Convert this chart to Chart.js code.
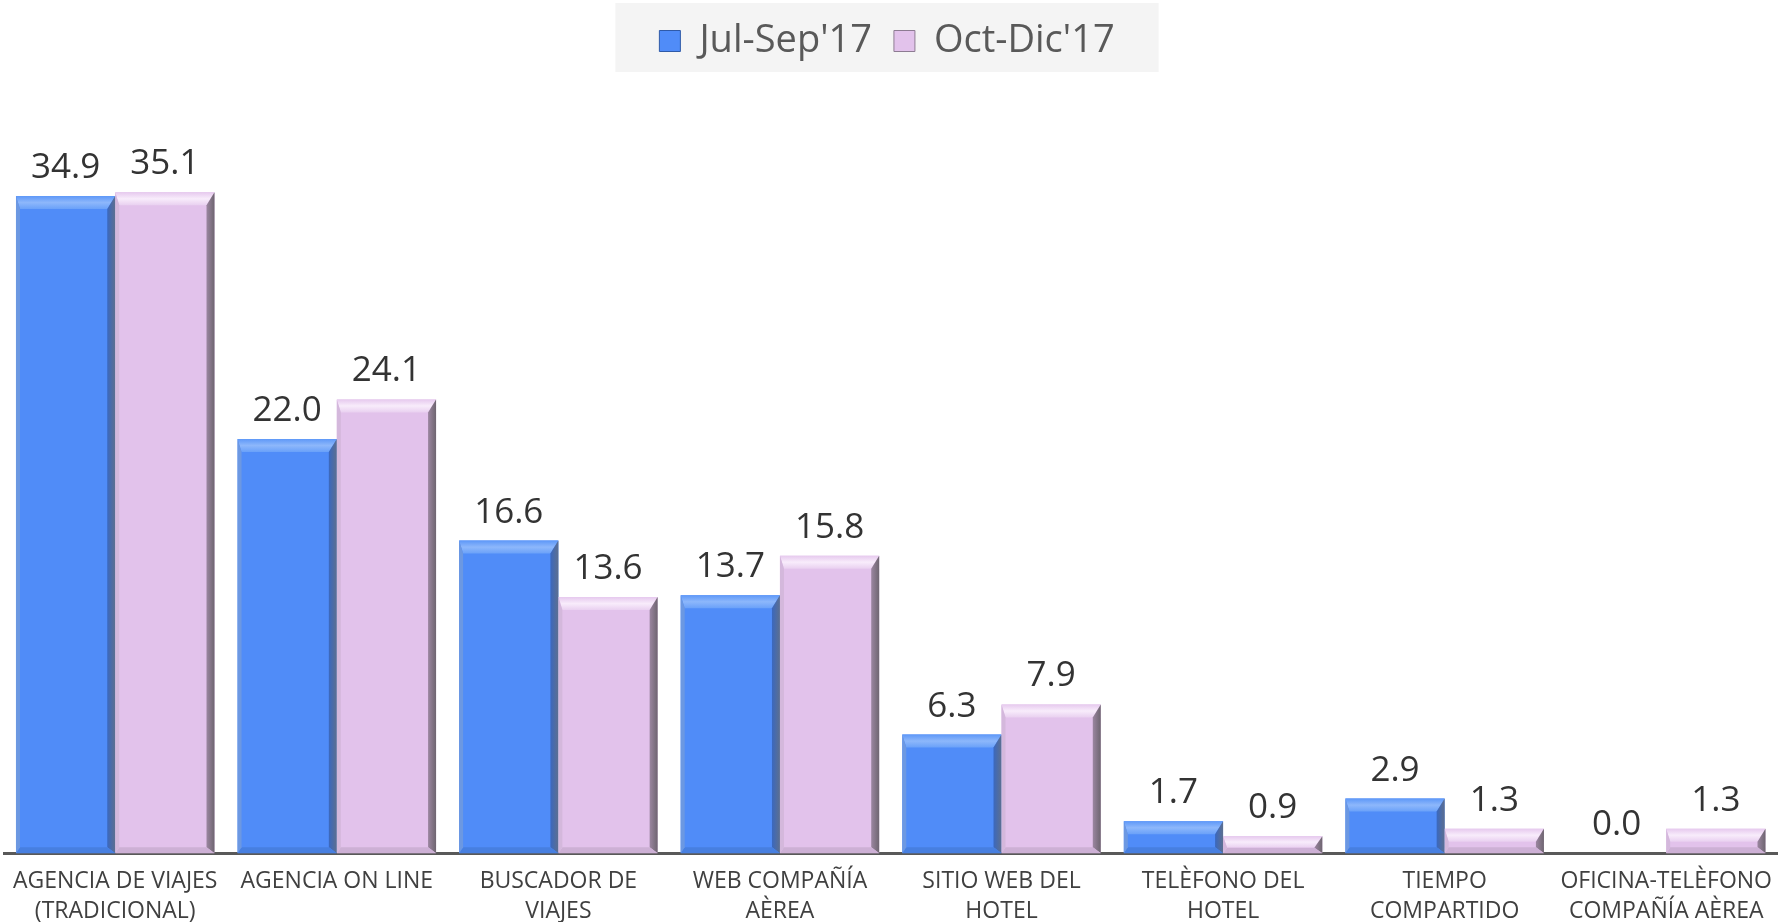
<!DOCTYPE html>
<html>
<head>
<meta charset="utf-8">
<script src="https://cdn.jsdelivr.net/npm/chart.js@4.4.0/dist/chart.umd.min.js"></script>
<style>
    html, body { margin: 0; padding: 0; background: #fff; }
    #wrap { width: 1791px; height: 922px; position: relative; }
</style>
</head>
<body>
<div id="wrap"><canvas id="chart"></canvas></div>
<script>
// Data
const categories = [
    ['AGENCIA DE VIAJES', '(TRADICIONAL)'],
    'AGENCIA ON LINE',
    ['BUSCADOR DE', 'VIAJES'],
    ['WEB COMPAÑÍA', 'AÈREA'],
    ['SITIO WEB DEL', 'HOTEL'],
    ['TELÈFONO DEL', 'HOTEL'],
    ['TIEMPO', 'COMPARTIDO'],
    ['OFICINA-TELÈFONO', 'COMPAÑÍA AÈREA']
];
const seriesNames = ["Jul-Sep'17", "Oct-Dic'17"];
const julSep = [34.9, 22.0, 16.6, 13.7, 6.3, 1.7, 2.9, 0.0];
const octDic = [35.1, 24.1, 13.6, 15.8, 7.9, 0.9, 1.3, 1.3];
const yMax = 40;

// Colours for the bevelled bars
const shades = [
    { face: '#508cf8', topA: '#5e98f8', topB: '#8db7fb', topC: '#6aa1f9', right: '#3a68bf', rightEdge: '#5d6f8f', bottom: '#477fe0', left: '#6c98e2', legendEdge: '#2f5aa8' },
    { face: '#e2c2eb', topA: '#e6c9ee', topB: '#f8ecfb', topC: '#e9d0f0', right: '#9b86a0', rightEdge: '#6e6570', bottom: '#cdb0d5', left: '#d4b8dc', legendEdge: '#8d7b92' }
];

function poly(ctx, pts, fill) {
    ctx.beginPath();
    ctx.moveTo(pts[0][0], pts[0][1]);
    for (let i = 1; i < pts.length; i++) ctx.lineTo(pts[i][0], pts[i][1]);
    ctx.closePath();
    ctx.fillStyle = fill;
    ctx.fill();
}

// Bevel look drawn on top of each bar element
const bevelPlugin = {
    id: 'bevel',
    afterDatasetsDraw(chart) {
        const ctx = chart.ctx;
        ctx.save();
        chart.data.datasets.forEach((ds, di) => {
            const sh = shades[di];
            chart.getDatasetMeta(di).data.forEach(bar => {
                const p = bar.getProps(['x', 'y', 'base', 'width'], true);
                const l = p.x - p.width / 2, r = p.x + p.width / 2;
                const t = Math.min(p.y, p.base), b = Math.max(p.y, p.base);
                const h = b - t;
                if (h < 1) return;
                let dt = 13, db = 6;
                const dl = 4, dr = 8;
                if (dt + db > h) { const k = h / (dt + db); dt *= k; db *= k; }

                const gTop = ctx.createLinearGradient(0, t, 0, t + dt);
                gTop.addColorStop(0, sh.topA);
                gTop.addColorStop(0.5, sh.topB);
                gTop.addColorStop(1, sh.topC);
                poly(ctx, [[l, t], [r, t], [r - dr, t + dt], [l + dl, t + dt]], gTop);

                const gRight = ctx.createLinearGradient(r - dr, 0, r, 0);
                gRight.addColorStop(0, sh.right);
                gRight.addColorStop(1, sh.rightEdge);
                poly(ctx, [[r, t], [r, b], [r - dr, b - db], [r - dr, t + dt]], gRight);

                poly(ctx, [[l, b], [r, b], [r - dr, b - db], [l + dl, b - db]], sh.bottom);
                poly(ctx, [[l, t], [l + dl, t + dt], [l + dl, b - db], [l, b]], sh.left);
            });
        });
        ctx.restore();
    }
};

// Value labels above the bars
const valueLabels = {
    id: 'valueLabels',
    afterDatasetsDraw(chart) {
        const ctx = chart.ctx;
        ctx.save();
        ctx.font = '35px "Open Sans"';
        ctx.fillStyle = '#333333';
        ctx.textAlign = 'center';
        ctx.textBaseline = 'alphabetic';
        chart.data.datasets.forEach((ds, di) => {
            chart.getDatasetMeta(di).data.forEach((bar, i) => {
                ctx.fillText(ds.data[i].toFixed(1), bar.x, bar.y - 18);
            });
        });
        ctx.restore();
    }
};

// Legend: taller box and grey background behind it
const legendBox = {
    id: 'legendBox',
    beforeLayout(chart) {
        const lg = chart.legend;
        if (!lg || lg._fixedHeight) return;
        const fit = lg.fit;
        lg.fit = function () { fit.call(this); this.height = 100; };
        lg._fixedHeight = true;
    },
    beforeDraw(chart) {
        const hits = chart.legend && chart.legend.legendHitBoxes;
        if (!hits || !hits.length) return;
        const last = hits[hits.length - 1];
        const left = hits[0].left - 44;
        const right = last.left + last.width + 44;
        const ctx = chart.ctx;
        ctx.save();
        ctx.fillStyle = '#f4f4f4';
        ctx.fillRect(left, 3, right - left, 69);
        ctx.restore();
    }
};

const ctx = document.getElementById('chart').getContext('2d');
new Chart(ctx, {
    type: 'bar',
    data: {
        labels: categories,
        datasets: [
            { label: seriesNames[0], data: julSep, backgroundColor: shades[0].face, borderWidth: 0 },
            { label: seriesNames[1], data: octDic, backgroundColor: shades[1].face, borderWidth: 0 }
        ]
    },
    options: {
        responsive: true,
        maintainAspectRatio: false,
        animation: false,
        devicePixelRatio: 1,
        layout: { padding: { left: -3, right: 14, top: 0, bottom: -17 } },
        datasets: { bar: { categoryPercentage: 0.896, barPercentage: 1.0 } },
        scales: {
            x: {
                grid: { display: false, drawTicks: false },
                border: { display: true, color: '#595959', width: 3 },
                ticks: {
                    autoSkip: false,
                    maxRotation: 0,
                    minRotation: 0,
                    padding: 13,
                    color: '#404040',
                    font: { family: '"Open Sans"', size: 23, lineHeight: 1.3 }
                }
            },
            y: { display: false, min: 0, max: yMax }
        },
        plugins: {
            tooltip: { enabled: false },
            legend: {
                position: 'top',
                labels: {
                    boxWidth: 21,
                    boxHeight: 21,
                    padding: 22,
                    color: '#595959',
                    font: { family: '"Open Sans"', size: 38 },
                    generateLabels: chart => chart.data.datasets.map((ds, i) => ({
                        text: ds.label,
                        fillStyle: ds.backgroundColor,
                        strokeStyle: shades[i].legendEdge,
                        lineWidth: 1,
                        hidden: false,
                        datasetIndex: i,
                        fontColor: '#595959'
                    }))
                }
            }
        }
    },
    plugins: [legendBox, bevelPlugin, valueLabels]
});
</script>
</body>
</html>
